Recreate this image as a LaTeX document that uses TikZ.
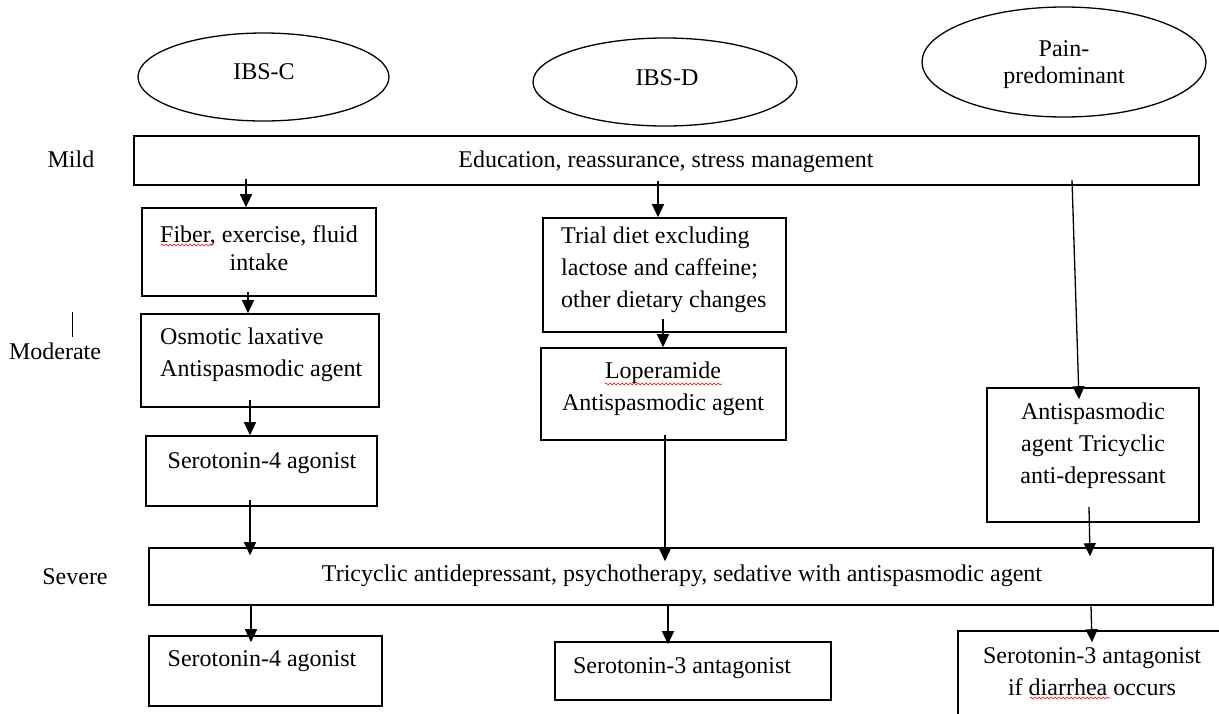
\documentclass[tikz,border=0pt]{standalone}
\usepackage{fontspec}
\setmainfont{Liberation Serif}
\usetikzlibrary{arrows.meta,shapes.geometric,decorations.pathmorphing}
\begin{document}
\begin{tikzpicture}[x=1pt,y=-1pt,
  box/.style={draw,line width=1.6pt,rectangle,inner sep=0pt},
  oval/.style={draw,line width=1.3pt,ellipse,inner sep=0pt},
  txt/.style={inner sep=0pt,font=\fontsize{24}{32}\selectfont},
  arr/.style={line width=1.3pt,-{Triangle[width=12pt,length=13pt]}},
  squig/.style={red,line width=0.6pt,decorate,decoration={snake,amplitude=0.9pt,segment length=4pt}}]
\useasboundingbox (0,0) rectangle (1219,713);
\clip (0,0) rectangle (1219,713);

% ellipses
\node[oval,minimum width=251pt,minimum height=88pt] (e1) at (263.5,77) {};
\node[oval,minimum width=264pt,minimum height=88pt] (e2) at (665,82) {};
\node[oval,minimum width=284pt,minimum height=110pt] (e3) at (1064,62) {};
\node[txt] (t1) at (264,72) {IBS-C};
\node[txt] (t2) at (667,78) {IBS-D};
\node[txt,align=center,font=\fontsize{24}{27}\selectfont] (t3) at (1064,65) {Pain-\\predominant};

% level labels
\node[txt] (lmild) at (71,159) {Mild};
\node[txt] (lmod) at (55,351) {Moderate};
\node[txt] (lsev) at (75,577) {Severe};
\draw[line width=0.9pt] (72,312) -- (72,337);

% boxes
\node[box,minimum width=1065pt,minimum height=49pt] (mild) at (666.5,160.5) {};
\node[box,minimum width=234pt,minimum height=88pt] (fiber) at (259,252) {};
\node[box,minimum width=238pt,minimum height=93pt] (osm) at (260,360.5) {};
\node[box,minimum width=231pt,minimum height=70pt] (s4) at (261.5,471) {};
\node[box,minimum width=1064pt,minimum height=57pt] (severe) at (681,576.5) {};
\node[box,minimum width=233pt,minimum height=70pt] (s4b) at (265.5,671) {};
\node[box,minimum width=243pt,minimum height=114pt] (trial) at (664.5,275) {};
\node[box,minimum width=245pt,minimum height=92pt] (lop) at (663.5,394) {};
\node[box,minimum width=276pt,minimum height=58pt] (s3) at (693,671) {};
\node[box,minimum width=212pt,minimum height=134pt] (antisp) at (1093,455) {};
\node[box,minimum width=277pt,minimum height=99pt] (s3b) at (1096.5,680.5) {};

% texts
\node[txt] (tmild) at (666,162) {Education, reassurance, stress management};
\node[txt,align=center,font=\fontsize{24}{28}\selectfont] (tfiber) at (259,248) {Fiber, exercise, fluid\\intake};
\node[txt,align=left,anchor=west] (ttrial) at (561,270) {Trial diet excluding\\lactose and caffeine;\\other dietary changes};
\node[txt,align=left,anchor=west] (tosm) at (160,355) {Osmotic laxative\\Antispasmodic agent};
\node[txt] (ts4) at (262,463) {Serotonin-4 agonist};
\node[txt,align=center] (tlop) at (663,389) {Loperamide\\Antispasmodic agent};
\node[txt,align=center] (tanti) at (1093,446) {Antispasmodic\\agent Tricyclic\\anti-depressant};
\node[txt] (tsev) at (682,576) {Tricyclic antidepressant, psychotherapy, sedative with antispasmodic agent};
\node[txt] (ts4b) at (262,661) {Serotonin-4 agonist};
\node[txt] (ts3) at (682,668) {Serotonin-3 antagonist};
\node[txt,align=center] (ts3b) at (1092,672) {Serotonin-3 antagonist\\if diarrhea occurs};

% spell-check squiggles
\draw[squig] (161,245) -- (212,245);
\draw[squig] (605,384) -- (722,384);
\draw[squig] (1030,698) -- (1110,698);

% arrows
\draw[arr] ([xshift=-420.5pt,yshift=7pt]mild.south) -- ([xshift=-13pt]fiber.north);
\draw[arr] ([xshift=-11pt,yshift=5pt]fiber.south) -- ([xshift=-12pt]osm.north);
\draw[arr] ([xshift=-10pt,yshift=8pt]osm.south) -- ([xshift=-11.5pt]s4.north);
\draw[arr] ([xshift=-11.5pt,yshift=7pt]s4.south) -- ([xshift=-431pt,yshift=-8pt]severe.north);
\draw[arr] ([xshift=-430pt]severe.south) -- ([xshift=-14.5pt,yshift=-7pt]s4b.north);
\draw[arr] ([xshift=-8.5pt,yshift=5pt]mild.south) -- ([xshift=-6.5pt]trial.north);
\draw[arr] ([xshift=-1.5pt,yshift=14pt]trial.south) -- ([xshift=-0.5pt]lop.north);
\draw[arr] ([xshift=1.5pt,yshift=6pt]lop.south) -- ([xshift=-16pt,yshift=-14pt]severe.north);
\draw[arr] ([xshift=-13pt]severe.south) -- ([xshift=-25pt,yshift=-3pt]s3.north);
\draw[arr] ([xshift=405.5pt,yshift=6pt]mild.south) -- ([xshift=-14pt,yshift=-12pt]antisp.north);
\draw[arr] ([xshift=-4pt,yshift=16pt]antisp.south) -- ([xshift=409pt,yshift=-9pt]severe.north);
\draw[arr] ([xshift=410pt]severe.south) -- ([xshift=-4.5pt,yshift=-12pt]s3b.north);
\end{tikzpicture}
\end{document}
